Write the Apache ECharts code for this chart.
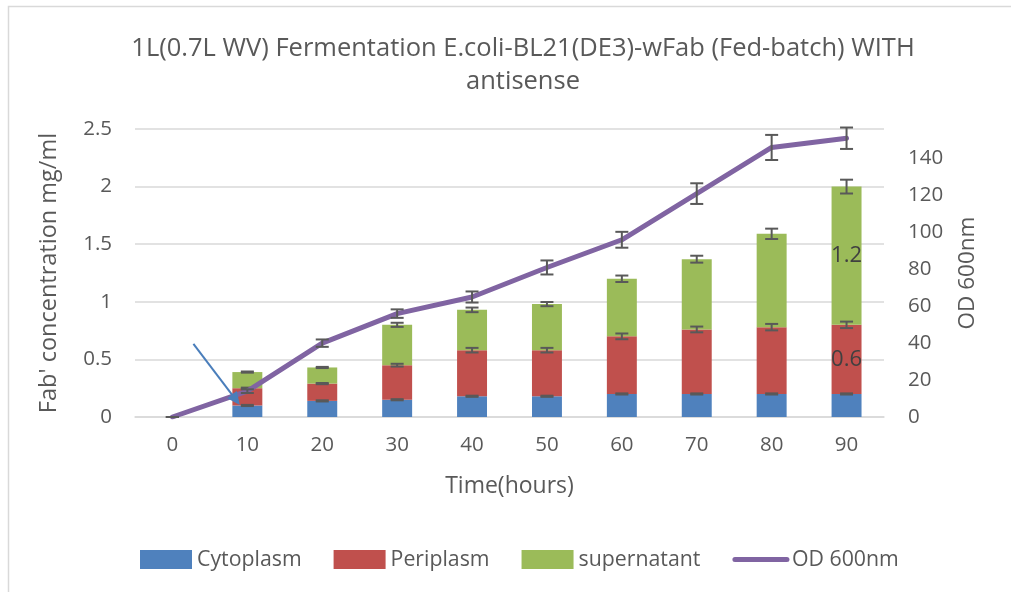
<!DOCTYPE html>
<html>
<head>
<meta charset="utf-8">
<title>Fed-batch fermentation</title>
<script src="https://cdn.jsdelivr.net/npm/echarts@6/dist/echarts.min.js"></script>
<style>
  html, body { margin: 0; padding: 0; background: #ffffff; }
  #chart { width: 1011px; height: 592px; }
</style>
</head>
<body>
<div id="chart"></div>
<script>
// Sampling times (hours)
const categories = ['0', '10', '20', '30', '40', '50', '60', '70', '80', '90'];

// Fab' concentration per compartment (mg/ml), stacked
const cytoplasm   = [0, 0.10, 0.14, 0.15, 0.18, 0.18, 0.20, 0.20, 0.20, 0.20];
const periplasm   = [0, 0.15, 0.15, 0.30, 0.40, 0.40, 0.50, 0.56, 0.58, 0.60];
const supernatant = [0, 0.14, 0.14, 0.35, 0.35, 0.40, 0.50, 0.61, 0.81, 1.20];

// Error (±) for each stacked segment
const cytoplasmErr   = [0, 0.005, 0.005, 0.005, 0.005, 0.005, 0.005, 0.005, 0.005, 0.005];
const periplasmErr   = [0, 0.005, 0.005, 0.012, 0.02, 0.02, 0.025, 0.025, 0.028, 0.028];
const supernatantErr = [0, 0.005, 0.005, 0.018, 0.02, 0.018, 0.028, 0.03, 0.045, 0.06];

// Optical density at 600 nm and its error
const od600    = [0, 14, 40, 56, 65, 81, 96, 121, 146, 151];
const od600Err = [0, 1, 2, 2.3, 3, 3.8, 4.3, 5.6, 6.8, 5.8];

// Value labels shown on the last bar
const labelledIndex = 9;

// Callout arrow, in data units (category index offset, left-axis value)
const arrowStart = { category: '10', offset: -0.72, value: 0.635 };
const arrowEnd   = { category: '10', offset: -0.10, value: 0.105 };

const FONT = '"Open Sans", "Noto Sans", sans-serif';
const TEXT = '#595959';

function cumulative(arrays) {
  const out = [];
  let run = categories.map(() => 0);
  arrays.forEach(a => {
    run = run.map((v, i) => v + a[i]);
    out.push(run.slice());
  });
  return out;
}
const tops = cumulative([cytoplasm, periplasm, supernatant]);

function errorData(values, errs) {
  return values.map((v, i) => [i, v, errs[i]]);
}

function renderErrorBar(params, api) {
  const x = api.value(0), y = api.value(1), e = api.value(2);
  const hi = api.coord([x, y + e]);
  const lo = api.coord([x, y - e]);
  const half = 6.5;
  const style = { stroke: '#595959', lineWidth: 2 };
  return {
    type: 'group',
    children: [
      { type: 'line', shape: { x1: hi[0], y1: hi[1], x2: lo[0], y2: lo[1] }, style },
      { type: 'line', shape: { x1: hi[0] - half, y1: hi[1], x2: hi[0] + half, y2: hi[1] }, style },
      { type: 'line', shape: { x1: lo[0] - half, y1: lo[1], x2: lo[0] + half, y2: lo[1] }, style }
    ]
  };
}

function errorSeries(name, values, errs, yAxisIndex, z) {
  return {
    name: name,
    type: 'custom',
    yAxisIndex: yAxisIndex,
    renderItem: renderErrorBar,
    encode: { x: 0, y: 1 },
    data: errorData(values, errs),
    z: z,
    silent: true,
    tooltip: { show: false }
  };
}

function labelOnLast(values) {
  return values.map((v, i) => i === labelledIndex
    ? { value: v, label: { show: true, position: 'inside', formatter: String(v), fontSize: 22, color: '#404040', fontFamily: FONT } }
    : v);
}

const barCommon = { type: 'bar', stack: 'fab', barWidth: '40%', yAxisIndex: 0 };

const chart = echarts.init(document.getElementById('chart'), null, { renderer: 'canvas' });

chart.setOption({
  animation: false,
  backgroundColor: '#ffffff',
  title: {
    text: "1L(0.7L WV) Fermentation E.coli-BL21(DE3)-wFab (Fed-batch) WITH\nantisense",
    left: 518,
    top: 27,
    textAlign: 'center',
    textStyle: { fontFamily: FONT, fontSize: 25.5, fontWeight: 'normal', color: TEXT, lineHeight: 33 }
  },
  grid: { left: 135, top: 129, width: 749, height: 288 },
  legend: {
    left: 140,
    top: 549,
    padding: 0,
    itemWidth: 52,
    itemHeight: 19,
    itemGap: 32,
    textStyle: { fontFamily: FONT, fontSize: 21.3, color: TEXT },
    data: [
      { name: 'Cytoplasm', icon: 'rect' },
      { name: 'Periplasm', icon: 'rect' },
      { name: 'supernatant', icon: 'rect' },
      {
        name: 'OD 600nm',
        itemStyle: { color: 'rgba(0,0,0,0)', borderWidth: 0, opacity: 0 },
        lineStyle: { color: '#8064a2', width: 5, cap: 'round' }
      }
    ]
  },
  xAxis: {
    type: 'category',
    data: categories,
    name: 'Time(hours)',
    nameLocation: 'middle',
    nameGap: 58,
    nameTextStyle: { fontFamily: FONT, fontSize: 23, color: TEXT },
    axisLine: { lineStyle: { color: '#d9d9d9', width: 1.5 } },
    axisTick: { show: false },
    axisLabel: { fontFamily: FONT, fontSize: 20.5, color: TEXT, margin: 18 }
  },
  yAxis: [
    {
      type: 'value',
      min: 0, max: 2.5, interval: 0.5,
      name: "Fab' concentration mg/ml",
      nameLocation: 'middle',
      nameGap: 74,
      nameTextStyle: { fontFamily: FONT, fontSize: 23.5, color: TEXT },
      axisLine: { show: false },
      axisTick: { show: false },
      axisLabel: { fontFamily: FONT, fontSize: 20.5, color: TEXT, margin: 23 },
      splitLine: { lineStyle: { color: '#d9d9d9', width: 1.5 } }
    },
    {
      type: 'value',
      position: 'right',
      min: 0, max: 156, interval: 20,
      name: 'OD 600nm',
      nameLocation: 'middle',
      nameRotate: 90,
      nameGap: 72,
      nameTextStyle: { fontFamily: FONT, fontSize: 22.5, color: TEXT },
      axisLine: { show: false },
      axisTick: { show: false },
      axisLabel: { fontFamily: FONT, fontSize: 20.5, color: TEXT, margin: 24, showMaxLabel: false },
      splitLine: { show: false }
    }
  ],
  series: [
    Object.assign({ name: 'Cytoplasm', data: cytoplasm, itemStyle: { color: '#4f81bd' } }, barCommon),
    Object.assign({ name: 'Periplasm', data: labelOnLast(periplasm), itemStyle: { color: '#c0504d' } }, barCommon),
    Object.assign({ name: 'supernatant', data: labelOnLast(supernatant), itemStyle: { color: '#9bbb59' } }, barCommon),
    errorSeries('cytoplasm-err', tops[0], cytoplasmErr, 0, 3),
    errorSeries('periplasm-err', tops[1], periplasmErr, 0, 3),
    errorSeries('supernatant-err', tops[2], supernatantErr, 0, 3),
    {
      name: 'OD 600nm',
      type: 'line',
      yAxisIndex: 1,
      data: od600,
      symbol: 'none',
      lineStyle: { color: '#8064a2', width: 5, cap: 'round', join: 'round' },
      itemStyle: { color: '#8064a2' },
      z: 4
    },
    errorSeries('od-err', od600, od600Err, 1, 5)
  ]
});

// Callout arrow placed from data coordinates
function toPixel(p) {
  const cx = chart.convertToPixel({ xAxisIndex: 0 }, p.category);
  const band = chart.convertToPixel({ xAxisIndex: 0 }, categories[1]) - chart.convertToPixel({ xAxisIndex: 0 }, categories[0]);
  const y = chart.convertToPixel({ yAxisIndex: 0 }, p.value);
  return [cx + p.offset * band, y];
}
const a = toPixel(arrowStart), b = toPixel(arrowEnd);
const ang = Math.atan2(b[1] - a[1], b[0] - a[0]);
const headLen = 13, headHalf = 6;
const baseX = b[0] - headLen * Math.cos(ang), baseY = b[1] - headLen * Math.sin(ang);
const nx = -Math.sin(ang), ny = Math.cos(ang);
chart.setOption({
  graphic: [
    {
      type: 'line', z: 100,
      shape: { x1: a[0], y1: a[1], x2: baseX, y2: baseY },
      style: { stroke: '#4a7ebb', lineWidth: 2 }
    },
    {
      type: 'polygon', z: 100,
      shape: { points: [b, [baseX + nx * headHalf, baseY + ny * headHalf], [baseX - nx * headHalf, baseY - ny * headHalf]] },
      style: { fill: '#4a7ebb' }
    },
    {
      type: 'rect', z: 100, silent: true,
      shape: { x: 8.5, y: 6.5, width: 1100, height: 700 },
      style: { fill: 'none', stroke: '#d9d9d9', lineWidth: 1.5 }
    }
  ]
});
</script>
</body>
</html>
